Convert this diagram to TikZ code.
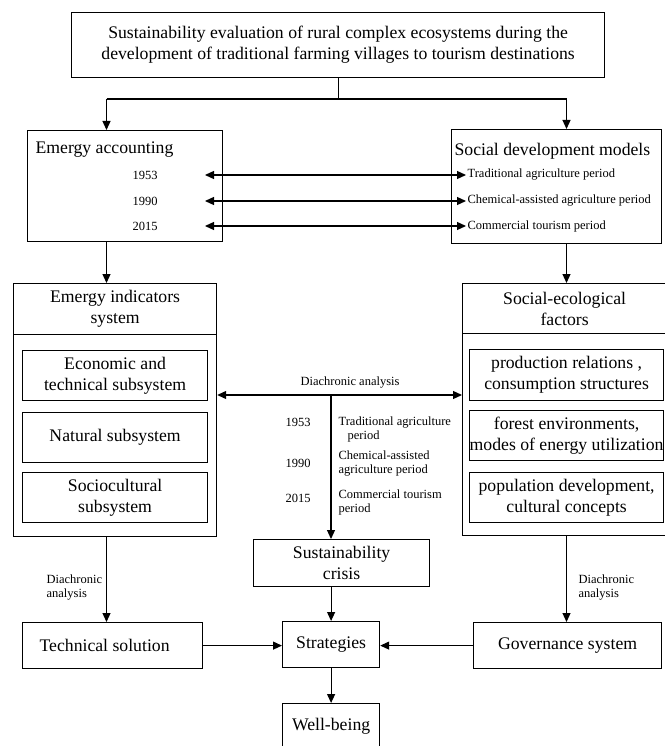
\documentclass[tikz,border=0pt]{standalone}
\usepackage{fontspec}
\setmainfont{Liberation Serif}
\usetikzlibrary{arrows.meta,calc}
\newcommand\bigf{\fontsize{17.7}{21}\selectfont}
\newcommand\smf{\fontsize{12.5}{14}\selectfont}
\tikzset{
  bx/.style={draw, line width=1.2pt, inner sep=0pt, align=center, anchor=north west, font=\bigf},
  txt/.style={inner sep=1pt, font=\bigf},
  sm/.style={inner sep=1pt, font=\smf},
}
\begin{document}
\begin{tikzpicture}[x=1pt,y=-1pt, line width=1.2pt, >={Triangle[length=9pt,width=8pt]}]
\useasboundingbox (0,0) rectangle (664,746);

% top
\node[bx, minimum width=533pt, minimum height=65pt] (top) at (71,12) {Sustainability evaluation of rural complex ecosystems during the\\development of traditional farming villages to tourism destinations};

% emergy accounting
\node[bx, minimum width=195pt, minimum height=111pt] (acc) at (27,130) {};
\node[txt, anchor=west] (acct) at (34,150) {Emergy accounting};
\node[sm] (y1) at (145,175) {1953};
\node[sm] (y2) at (145,201) {1990};
\node[sm] (y3) at (145,226) {2015};

% social development models
\node[bx, minimum width=210pt, minimum height=114pt] (soc) at (451,129) {};
\node[txt, anchor=west] (soct) at (453,151) {Social development models};
\node[sm, anchor=west] (p1) at (466,175) {Traditional agriculture period};
\node[sm, anchor=west] (p2) at (466,201) {Chemical-assisted agriculture period};
\node[sm, anchor=west] (p3) at (466,226) {Commercial tourism period};
\coordinate (a1) at (205,175);
\coordinate (a2) at (205,201);
\coordinate (a3) at (205,226);
\draw[<->] (a1) -- (p1.west);
\draw[<->] (a2) -- (p2.west);
\draw[<->] (a3) -- (p3.west);

% emergy indicators
\node[bx, minimum width=203pt, minimum height=253pt] (indbox) at (13,283) {};
\node[bx, minimum width=203pt, minimum height=51pt] (indh) at (13,283) {Emergy indicators\\system};
\node[bx, minimum width=185pt, minimum height=50pt] (eco) at (22,350) {Economic and\\technical subsystem};
\node[bx, minimum width=185pt, minimum height=50pt] (nat) at (22,412) {Natural subsystem};
\node[bx, minimum width=185pt, minimum height=50pt] (socu) at (22,472) {Sociocultural\\subsystem};

% social-ecological factors
\node[bx, minimum width=204pt, minimum height=252pt] (sefbox) at (462,283) {};
\node[bx, minimum width=204pt, minimum height=50pt] (sefh) at (462,283) {Social-ecological\\factors};
\node[bx, minimum width=194pt, minimum height=51pt] (prod) at (469,349) {production relations ,\\consumption structures};
\node[bx, minimum width=194pt, minimum height=50pt] (forest) at (469,410) {forest environments,\\modes of energy utilization};
\node[bx, minimum width=194pt, minimum height=50pt] (pop) at (469,472) {population development,\\cultural concepts};

% middle diachronic analysis
\coordinate (dj) at (331,395);
\draw[<->] (dj -| indbox.east) -- (dj -| sefbox.west);
\node[sm] (dl) at (350,383) {Diachronic analysis};
\node[sm] (m1) at (298,422) {1953};
\node[sm] (m2) at (298,463) {1990};
\node[sm] (m3) at (298,498) {2015};
\node[sm, anchor=west, align=left] (q1) at (337,429) {Traditional agriculture\\\hspace*{9pt}period};
\node[sm, anchor=west, align=left] (q2) at (337,464) {Chemical-assisted\\agriculture period};
\node[sm, anchor=west, align=left] (q3) at (337,502) {Commercial tourism\\period};

% bottom
\node[bx, minimum width=176pt, minimum height=47pt] (crisis) at (253,539) {Sustainability\\crisis};
\node[bx, minimum width=97pt, minimum height=46pt] (strat) at (282,621) {Strategies};
\node[bx, minimum width=97pt, minimum height=46pt] (well) at (282,703) {Well-being};
\node[bx, minimum width=180pt, minimum height=46pt] (tech) at (22,622) {\hspace*{-16pt}Technical solution};
\node[bx, minimum width=188pt, minimum height=46pt] (gov) at (473,622) {Governance system};
\node[sm, anchor=west, align=left] (dl1) at (45,588) {Diachronic\\analysis};
\node[sm, anchor=west, align=left] (dl2) at (577,588) {Diachronic\\analysis};

% connectors
\coordinate (la) at (106.5,99);
\coordinate (ra) at (566.5,99);
\draw (top.south) -- (top.south |- la);
\draw (la) -- (ra);
\draw[->] (la) -- (la |- acc.north);
\draw[->] (ra) -- (ra |- soc.north);
\draw[->] (la |- acc.south) -- (la |- indbox.north);
\draw[->] (ra |- soc.south) -- (ra |- sefbox.north);
\draw[->] (la |- indbox.south) -- (la |- tech.north);
\draw[->] (ra |- sefbox.south) -- (ra |- gov.north);
\draw[->] (dj) -- (dj |- crisis.north);
\draw[->] (strat.north |- crisis.south) -- (strat.north);
\draw[->] (tech.east) -- (tech.east -| strat.west);
\draw[->] (gov.west) -- (gov.west -| strat.east);
\draw[->] (strat.south) -- (well.north);
\end{tikzpicture}
\end{document}
